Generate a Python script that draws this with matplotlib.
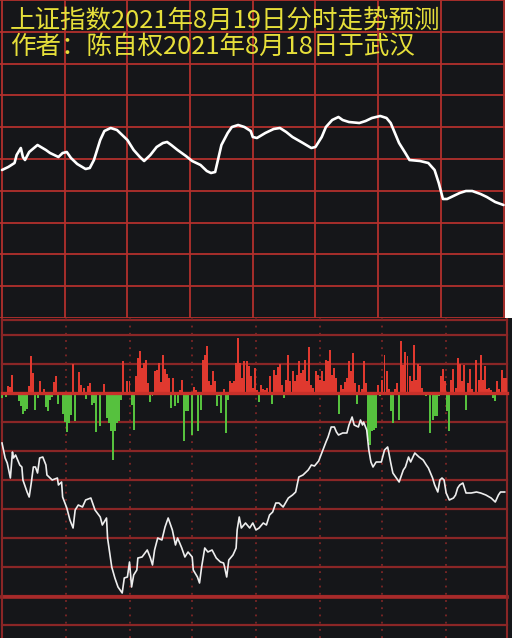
import matplotlib.pyplot as plt
import numpy as np

plt.rcParams['font.family'] = ['Noto Sans CJK SC', 'DejaVu Sans']

# 标题文字
title1 = '上证指数2021年8月19日分时走势预测'
title2 = '作者：陈自权2021年8月18日于武汉'

# 上半部分：预测走势曲线（分钟, 数值）
pred_t = [0, 3, 6, 7, 9, 10, 11, 13, 17, 21, 23, 27, 29, 31, 33, 36, 40, 42, 44, 47,
          49, 52, 55, 57, 60, 63, 66, 68, 71, 74, 77, 79, 81, 84, 88, 91, 95, 98, 100, 102,
          103, 105, 108, 110, 113, 116, 119, 120, 122, 126, 130, 133, 136, 139, 144, 148, 150, 153, 155, 158,
          161, 163, 166, 171, 174, 177, 181, 184, 186, 188, 190, 193, 195, 200, 204, 207, 209, 211, 213, 216,
          219, 222, 225, 229, 232, 236, 240]
pred_v = [148, 151, 155, 163, 170, 161, 158, 166, 173, 168, 165, 161, 165, 166, 160, 154, 149, 150, 158, 178,
          187, 190, 188, 184, 178, 168, 161, 157, 163, 171, 175, 176, 173, 168, 162, 157, 153, 147, 145, 146,
          155, 173, 185, 191, 193, 191, 187, 181, 180, 185, 189, 190, 186, 181, 175, 170, 171, 181, 191, 198,
          201, 198, 196, 195, 197, 200, 202, 200, 195, 185, 175, 165, 158, 157, 155, 148, 135, 119, 119, 122,
          125, 127, 127, 124, 121, 116, 113]

# 下半部分：实际分时走势（分钟, 数值）
real_t = [0, 1.5, 2.5, 4, 5, 5.5, 6.5, 7.5, 8.5, 9.5, 10, 12, 13, 14, 15, 16, 17, 18, 19.5, 21,
          21.5, 24, 26.5, 27, 28.5, 29, 31, 32.5, 34, 35, 36.5, 38.5, 40, 42.5, 44.5, 47, 48, 50, 50.5, 52.5,
          54, 55.5, 57.5, 58.5, 60, 61, 62, 63, 64.5, 65, 67, 69.5, 71, 72, 73, 74.5, 76.5, 78, 79.5, 81.5,
          83, 84, 86, 87.5, 89, 91, 91.5, 93.5, 94.5, 95.5, 97, 98.5, 100.5, 102.5, 104.5, 106, 106.5, 107.5, 108.5, 110.5,
          112, 112.5, 113.5, 114.5, 116.5, 118.5, 120, 121.5, 123, 125, 126.5, 128, 129.5, 131, 132.5, 134.5, 137, 139,
          140.5, 142, 144, 146.5, 148, 149.5, 151.5, 153.5, 155, 156, 157.5, 159, 160, 161, 163, 165, 166, 167.5,
          168.5, 170.5, 171.5, 172.5, 173, 174.5, 175.5, 176.5, 177.5, 179, 181.5, 183, 184.5, 185, 186, 187, 190, 192,
          193, 194.5, 195.5, 197.5, 199.5, 201.5, 203, 204, 206, 207, 208.5, 209.5, 210.5, 211.5, 212.5, 214, 216, 217,
          218, 219, 220.5, 222, 224.5, 227, 229, 231.5, 234, 236, 237.5, 238.5, 240.5]
real_v = [197, 182, 177, 162, 188, 182, 185, 180, 175, 173, 160, 148, 143, 157, 173, 173, 167, 182, 183, 175,
          165, 160, 162, 155, 158, 143, 132, 120, 112, 130, 135, 133, 140, 142, 130, 123, 115, 122, 102, 73,
          62, 53, 47, 62, 63, 78, 53, 65, 70, 82, 83, 90, 82, 75, 90, 102, 100, 113, 122, 110,
          95, 102, 92, 83, 88, 83, 70, 63, 57, 73, 92, 88, 90, 82, 78, 77, 73, 63, 80, 85,
          92, 110, 123, 112, 117, 112, 117, 110, 112, 117, 115, 125, 128, 137, 137, 133, 142, 145,
          148, 163, 165, 170, 175, 174, 179, 190, 198, 203, 213, 213, 208, 205, 207, 207, 215, 223,
          215, 213, 220, 215, 218, 210, 190, 178, 173, 178, 178, 190, 193, 188, 177, 167, 158, 170,
          173, 183, 178, 187, 183, 180, 175, 172, 162, 155, 148, 160, 162, 160, 147, 140, 142, 145,
          152, 155, 157, 147, 147, 148, 147, 145, 142, 138, 145, 148, 148]

# 买卖量差柱（分钟, 正为红, 负为绿）
bar_t = [0, 2, 3, 4, 5, 6, 8, 9, 10, 11, 12, 13, 14, 15, 16, 17, 18, 19, 20, 21,
         22, 23, 24, 25, 26, 27, 29, 30, 31, 32, 33, 34, 35, 37, 38, 39, 40, 41, 42, 43,
         44, 45, 47, 49, 50, 51, 52, 53, 54, 55, 56, 57, 58, 60, 61, 62, 63, 64, 65, 66,
         67, 68, 69, 70, 71, 72, 73, 74, 75, 76, 77, 78, 79, 80, 81, 82, 83, 84, 85, 86,
         87, 88, 89, 91, 92, 93, 94, 95, 96, 97, 98, 99, 100, 101, 102, 103, 104, 105, 106, 107,
         108, 109, 110, 111, 112, 113, 114, 115, 116, 117, 118, 119, 120, 121, 122, 123, 124, 125, 126, 127,
         128, 129, 130, 131, 132, 133, 134, 135, 136, 137, 138, 139, 140, 141, 142, 143, 144, 145, 146, 147,
         148, 149, 150, 151, 152, 153, 154, 155, 156, 157, 158, 159, 160, 161, 162, 163, 164, 165, 166, 167,
         168, 169, 170, 171, 172, 173, 174, 175, 176, 177, 178, 179, 180, 181, 182, 183, 184, 185, 186, 187,
         188, 189, 190, 191, 192, 193, 194, 195, 196, 197, 198, 199, 200, 201, 203, 205, 206, 207, 208, 209,
         210, 211, 212, 213, 214, 215, 216, 217, 218, 219, 220, 221, 222, 223, 224, 225, 226, 227, 228, 229,
         230, 231, 232, 233, 234, 235, 236, 237, 238, 239, 240, 241]
bar_v = [-5, -4, 7, 6, 18, -2, -8, -13, -21, -18, -16, 7, 37, 20, -17, -5, 12, -2, 4, -14,
         -18, -7, -4, 11, 17, -11, -21, -29, -39, -30, -22, 29, -28, 21, 8, 5, -6, 7, 10, -12,
         -10, -39, -33, 9, -25, -30, -38, -67, -38, -30, -28, -7, 32, 12, 12, -12, -37, 17, 35, 42,
         25, 30, 33, 10, -9, -3, 22, 23, 30, 11, 38, 24, 19, 15, -15, 15, -13, -10, 3, 13,
         -48, -18, -18, -42, 6, 3, -38, -17, 33, 38, 47, 12, 8, 22, 12, -13, -3, -20, 4, -40,
         -7, 12, 10, 12, 30, 55, 30, 15, 32, 32, 27, 17, 5, 25, 3, -9, 8, 4, 3, 5,
         17, -11, 23, 18, 26, 29, 8, -5, 13, 38, 12, 22, 12, 18, 32, 20, 23, 33, 12, 46,
         8, 5, 22, 18, 13, 22, 12, 33, 32, 43, 18, 25, 15, -21, 8, 4, 11, 15, 32, 22,
         40, 10, -11, 8, 4, 32, 10, -48, -52, -38, -37, -35, 8, -3, 13, 38, 22, 4, -18, -30,
         4, 10, -27, 52, 28, 41, 37, 17, 12, 48, 13, 29, 27, 5, -3, -40, -27, -23, -23, -3,
         17, 24, 12, -18, -38, 13, 24, 5, 35, 29, 12, 28, -17, 10, 24, 4, -2, 33, 13, 38,
         13, 27, 4, 5, 3, -5, -8, 12, 4, 23, 15, 15]

bg = '#151619'
grid_red = '#b3302c'
dark_red = '#8a2626'
yellow = '#e6df3a'

fig = plt.figure(figsize=(5.12, 6.38), dpi=100, facecolor='white')

# 上半部分
ax1 = fig.add_axes([0, 320 / 638, 505 / 512, 318 / 638])
ax1.set_facecolor(bg)
ax1.set_xlim(-0.96, 240.7)
ax1.set_ylim(0, 318)
for x in np.arange(0, 241, 30):
    ax1.axvline(x, color=grid_red, lw=1.3, zorder=1)
for y in np.linspace(0, 318, 11):
    ax1.axhline(y, color=grid_red, lw=1.3, zorder=1)
ax1.plot(pred_t, pred_v, color='white', lw=1.9, solid_joinstyle='round',
         solid_capstyle='round', zorder=3)
ax1.set_xticks([])
ax1.set_yticks([])
for s in ax1.spines.values():
    s.set_visible(False)

# 下半部分
ax2 = fig.add_axes([0, 0, 1, 320 / 638])
ax2.set_facecolor(bg)
ax2.set_xlim(-0.96, 244.0)
ax2.set_ylim(-245, 75)
for y in np.arange(58, -240, -29):
    if y == 0:
        continue
    ax2.axhline(y, xmin=0.004, xmax=0.99, color=dark_red, lw=1.6, zorder=1)
ax2.axhline(-204, xmin=0.004, xmax=0.99, color='#a82a2a', lw=2.6, zorder=1)
ax2.axhline(73.5, xmin=0.004, xmax=0.99, color=dark_red, lw=1.6, zorder=1)
ax2.axvline(0, color=dark_red, lw=1.5, zorder=1)
ax2.axvline(241.6, color=dark_red, lw=1.5, zorder=1)
for x in [30.5, 61, 91, 121.5, 152, 182, 212.5]:
    ax2.axvline(x, color='#7e2626', lw=1.3, linestyle=(0, (1, 3)), zorder=1)

bar_t = np.array(bar_t)
bar_v = np.array(bar_v)
up = bar_v > 0
ax2.bar(bar_t[up], bar_v[up], width=0.95, color='#e0392f', lw=0, antialiased=False, zorder=2)
ax2.bar(bar_t[~up], bar_v[~up], width=0.95, color='#56c13e', lw=0, antialiased=False, zorder=2)
ax2.axhline(0, xmin=0.004, xmax=0.99, color='#c8302a', lw=2.4, zorder=3)
ax2.set_xticks([])
ax2.set_yticks([])
for s in ax2.spines.values():
    s.set_visible(False)

ax3 = fig.add_axes([0, 0, 1, 320 / 638])
ax3.patch.set_visible(False)
ax3.set_xlim(-0.96, 244.0)
ax3.set_ylim(2, 322)
ax3.plot(real_t, real_v, color='#eeeeee', lw=1.2, zorder=4)
ax3.axis('off')

fig.text(10 / 512, 1 - 22 / 638, title1, color=yellow, fontsize=18.4, va='center', ha='left')
fig.text(10 / 512, 1 - 47 / 638, title2, color=yellow, fontsize=18.4, va='center', ha='left')

fig.savefig('out.png', dpi=100, facecolor='white')
